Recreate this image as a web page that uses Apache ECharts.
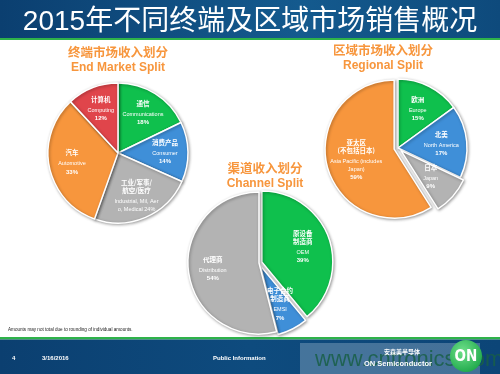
<!DOCTYPE html>
<html><head><meta charset="utf-8">
<script src="https://cdn.jsdelivr.net/npm/echarts@6/dist/echarts.min.js"></script>
<style>html,body{margin:0;padding:0;background:#fff}#c{width:500px;height:374px}</style>
</head><body><div id="c"></div>
<script>
// ---- data ----
const pageTitle = '2015年不同终端及区域市场销售概况';
const endMarketTitle = ['终端市场收入划分', 'End Market Split'];
const endMarketCn = ['通信', '消费产品', '工业/军事/\n航空/医疗', '汽车', '计算机'];
const endMarketEn = ['Communications', 'Consumer', 'Industrial, Mil, Aer\no, Medical', 'Automotive', 'Computing'];
const endMarketValues = [18, 14, 24, 33, 12];

const regionTitle = ['区域市场收入划分', 'Regional Split'];
const regionCn = ['欧洲', '北美', '日本', '亚太区\n(不包括日本)'];
const regionEn = ['Europe', 'North America', 'Japan', 'Asia Pacific (includes\nJapan)'];
const regionValues = [15, 17, 9, 59];

const channelTitle = ['渠道收入划分', 'Channel Split'];
const channelCn = ['原设备\n制造商', '电子合约\n制造商', '代理商'];
const channelEn = ['OEM', 'EMSI', 'Distribution'];
const channelValues = [39, 7, 54];

const footnote = 'Amounts may not total due to rounding of individual amounts.';
const footerTexts = ['4', '3/16/2016', 'Public Information'];

// ---- style ----
const C = { green: '#0fc04d', blue: '#3f8fd8', gray: '#b3b3b3', orange: '#f7963d', red: '#e0454b' };
const endColors = [C.green, C.blue, C.gray, C.orange, C.red];
const regionColors = [C.green, C.blue, C.gray, C.orange];
const channelColors = [C.green, C.blue, C.gray];
const CJK = '"Noto Sans CJK SC", "Liberation Sans", sans-serif';

function mkData(vals, colors, selected) {
  return vals.map((v, i) => ({ value: v, itemStyle: { color: colors[i] }, selected: !!(selected && selected[i]) }));
}
function mkLabels(cn, en, vals, inlinePct, gap) {
  return vals.map((v, i) => {
    const cnPart = cn[i].split('\n').map(s => '{cn|' + s + '}').join('\n');
    const enLines = en[i].split('\n');
    let enPart;
    if (inlinePct && inlinePct[i]) {
      enLines[enLines.length - 1] += ' ' + v + '%';
      enPart = enLines.map(s => '{en|' + s + '}').join('\n');
      return { value: v, label: { formatter: cnPart + '\n' + (gap ? '{gap|}\n' : '') + enPart } };
    }
    enPart = enLines.map(s => '{en|' + s + '}').join('\n');
    return { value: v, label: { formatter: cnPart + '\n' + (gap ? '{gap|}\n' : '') + enPart + '\n{pct|' + v + '%}' } };
  });
}
const labelStyle = {
  show: true, position: 'inside', color: '#fff', align: 'center',
  rich: {
    cn: { fontFamily: CJK, fontSize: 6.5, fontWeight: 'bold', color: '#fff', lineHeight: 8 },
    en: { fontFamily: '"Liberation Sans", sans-serif', fontSize: 5.5, color: '#fff', lineHeight: 8 },
    pct: { fontFamily: '"Liberation Sans", sans-serif', fontSize: 6, fontWeight: 'bold', color: '#fff', lineHeight: 8 },
    gap: { fontSize: 2, lineHeight: 3 }
  }
};
const sliceStyle = { borderColor: '#fff', borderWidth: 1.5, shadowBlur: 3, shadowColor: 'rgba(0,0,0,0.35)', shadowOffsetX: 1, shadowOffsetY: 1 };

function piePair(center, r, inner, vals, colors, labels, selected, offset) {
  return [
    {
      type: 'pie', center: center, radius: r, startAngle: 90, clockwise: true,
      selectedMode: 'multiple', selectedOffset: offset || 0, silent: true,
      label: { show: false }, labelLine: { show: false },
      itemStyle: sliceStyle, emphasis: { disabled: true }, select: { disabled: false },
      data: mkData(vals, colors, selected)
    },
    {
      type: 'pie', center: center, radius: [inner, r], startAngle: 90, clockwise: true,
      silent: true, itemStyle: { color: 'rgba(0,0,0,0)' }, labelLine: { show: false },
      label: labelStyle, emphasis: { disabled: true },
      data: labels
    }
  ];
}

const chart = echarts.init(document.getElementById('c'), null, { renderer: 'canvas' });
const headTitle = (x, y, t) => ([
  { type: 'text', x: x, y: y, style: { text: t[0], fill: C.orange, font: 'bold 12.5px ' + CJK, textAlign: 'center', textVerticalAlign: 'middle' } },
  { type: 'text', x: x, y: y + 16, style: { text: t[1], fill: C.orange, font: 'bold 12px "Liberation Sans", sans-serif', textAlign: 'center', textVerticalAlign: 'middle' } }
]);

const option = {
  animation: false,
  backgroundColor: '#fff',
  graphic: [
    { type: 'rect', shape: { x: 0, y: 0, width: 500, height: 38 }, style: { fill: new echarts.graphic.LinearGradient(0, 0, 1, 0, [{ offset: 0, color: '#0b3f70' }, { offset: 0.6, color: '#145a8e' }, { offset: 1, color: '#0e4a7c' }]) }, z: -10 },
    { type: 'rect', shape: { x: 0, y: 38, width: 500, height: 2 }, style: { fill: '#2fb24a' }, z: -10 },
    { type: 'rect', shape: { x: 0, y: 337, width: 500, height: 2.5 }, style: { fill: '#2fb24a' }, z: -10 },
    { type: 'rect', shape: { x: 0, y: 339.5, width: 500, height: 35 }, style: { fill: new echarts.graphic.LinearGradient(0, 0, 1, 0, [{ offset: 0, color: '#0b3f70' }, { offset: 0.5, color: '#0e4b7e' }, { offset: 1, color: '#0c4577' }]) }, z: -10 },
    { type: 'rect', shape: { x: 300, y: 343, width: 180, height: 31 }, style: { fill: 'rgba(200,215,230,0.3)' }, z: -9 },
    { type: 'text', x: 250, y: 22, style: { text: pageTitle, fill: '#fff', font: '28px "Liberation Sans", "Noto Sans CJK SC", sans-serif', textAlign: 'center', textVerticalAlign: 'middle' } },
    { type: 'text', x: 8, y: 330, style: { text: footnote, fill: '#222', font: '4.6px "Liberation Sans", sans-serif', textVerticalAlign: 'middle' } },
    { type: 'text', x: 12, y: 358, style: { text: footerTexts[0], fill: '#fff', font: 'bold 6px "Liberation Sans", sans-serif', textVerticalAlign: 'middle' } },
    { type: 'text', x: 42, y: 358, style: { text: footerTexts[1], fill: '#fff', font: 'bold 6px "Liberation Sans", sans-serif', textVerticalAlign: 'middle' } },
    { type: 'text', x: 213, y: 358, style: { text: footerTexts[2], fill: '#fff', font: 'bold 6px "Liberation Sans", sans-serif', textVerticalAlign: 'middle' } },
    { type: 'text', x: 315, y: 360, style: { text: 'www.cntronics.com', fill: 'rgba(25,95,70,0.85)', font: '22px "Liberation Sans", sans-serif', textVerticalAlign: 'middle' } },
    { type: 'text', x: 402, y: 352, style: { text: '安森美半导体', fill: '#fff', font: 'bold 6px ' + CJK, textAlign: 'center', textVerticalAlign: 'middle' } },
    { type: 'text', x: 398, y: 364, style: { text: 'ON Semiconductor', fill: '#fff', font: 'bold 7.5px "Liberation Sans", sans-serif', textAlign: 'center', textVerticalAlign: 'middle' } },
    { type: 'circle', shape: { cx: 466, cy: 356, r: 16 }, style: { fill: new echarts.graphic.RadialGradient(0.4, 0.35, 0.7, [{ offset: 0, color: '#6fe08a' }, { offset: 1, color: '#1ea84a' }]) } },
    { type: 'text', x: 466, y: 357, style: { text: 'ON', fill: '#fff', font: 'bold 15px "DejaVu Sans Condensed", sans-serif', textAlign: 'center', textVerticalAlign: 'middle' } },
    ...headTitle(118, 52, endMarketTitle),
    ...headTitle(383, 50, regionTitle),
    ...headTitle(265, 168, channelTitle)
  ],
  series: [
    ...piePair([118, 153], 70, 18, endMarketValues, endColors,
      mkLabels(endMarketCn, endMarketEn, endMarketValues, [false, false, true, false, false], true), null, 0),
    ...piePair([398, 148], 69, 12, regionValues, regionColors,
      mkLabels(regionCn, regionEn, regionValues, null, true), [false, false, true, true], 4),
    ...piePair([259, 263], 71, 16, channelValues, channelColors,
      mkLabels(channelCn, channelEn, channelValues, null, true), [true, true, false], 3)
  ]
};
chart.setOption(option);
</script></body></html>
